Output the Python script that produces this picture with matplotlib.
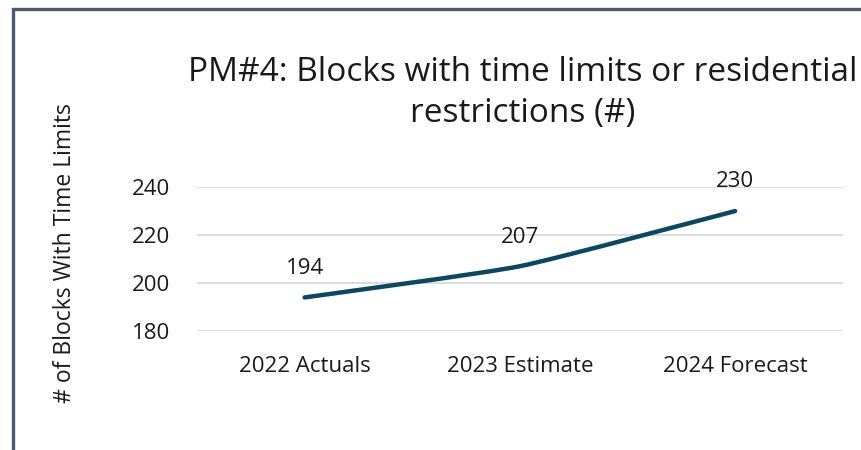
import matplotlib.pyplot as plt
from matplotlib.patches import Rectangle, PathPatch
from matplotlib.path import Path

categories = ["2022 Actuals", "2023 Estimate", "2024 Forecast"]
values = [194, 207, 230]
y_ticks = [180, 200, 220, 240]

plt.rcParams['font.family'] = ['Open Sans', 'DejaVu Sans']

fig = plt.figure(figsize=(8.61, 4.5), dpi=100)
ax = fig.add_axes([0.2288, 0.2644, 0.750, 0.320])

# outer chart border (only left and top are visible in the crop)
fig.patches.append(Rectangle((13 / 861, -0.5), 2, 1.5 - 9 / 450,
                             transform=fig.transFigure, fill=False,
                             edgecolor='#4b5a6c', linewidth=2.4))

# lightly smoothed line through the points
xs = list(range(len(values)))
verts = [(xs[0], values[0])]
codes = [Path.MOVETO]
for i in range(len(xs) - 1):
    p0 = (xs[max(i - 1, 0)], values[max(i - 1, 0)])
    p1 = (xs[i], values[i])
    p2 = (xs[i + 1], values[i + 1])
    p3 = (xs[min(i + 2, len(xs) - 1)], values[min(i + 2, len(xs) - 1)])
    c1 = (p1[0] + (p2[0] - p0[0]) / 12, p1[1] + (p2[1] - p0[1]) / 12)
    c2 = (p2[0] - (p3[0] - p1[0]) / 12, p2[1] - (p3[1] - p1[1]) / 12)
    verts += [c1, c2, p2]
    codes += [Path.CURVE4] * 3
ax.add_patch(PathPatch(Path(verts, codes), fill=False, edgecolor='#0d4660',
                       linewidth=3.2, capstyle='round', joinstyle='round', zorder=3))

for x, v in zip(xs, values):
    ax.annotate(str(v), (x, v), xytext=(0, 21), textcoords='offset points',
                ha='center', va='center', fontsize=16, color='#1a1a1a')

ax.set_xlim(-0.5, 2.5)
ax.set_ylim(180, 240)
ax.set_yticks(y_ticks)
ax.set_xticks(xs)
ax.set_xticklabels(categories)
ax.tick_params(axis='both', length=0, labelsize=16, colors='#1a1a1a')
ax.tick_params(axis='x', pad=18)
ax.tick_params(axis='y', pad=19)
ax.grid(axis='y', color='#d9d9d9', linewidth=1.3)
ax.set_axisbelow(True)
for s in ax.spines.values():
    s.set_visible(False)

fig.text(65 / 861, 1 - 253 / 450, "# of Blocks With Time Limits", rotation=90,
         ha='center', va='center', fontsize=16.5, color='#1a1a1a')
fig.text(523 / 861, 1 - 93 / 450,
         "PM#4: Blocks with time limits or residential\nrestrictions (#)",
         ha='center', va='center', fontsize=24, color='#1a1a1a', linespacing=1.35)

fig.savefig("out.png", dpi=100)
